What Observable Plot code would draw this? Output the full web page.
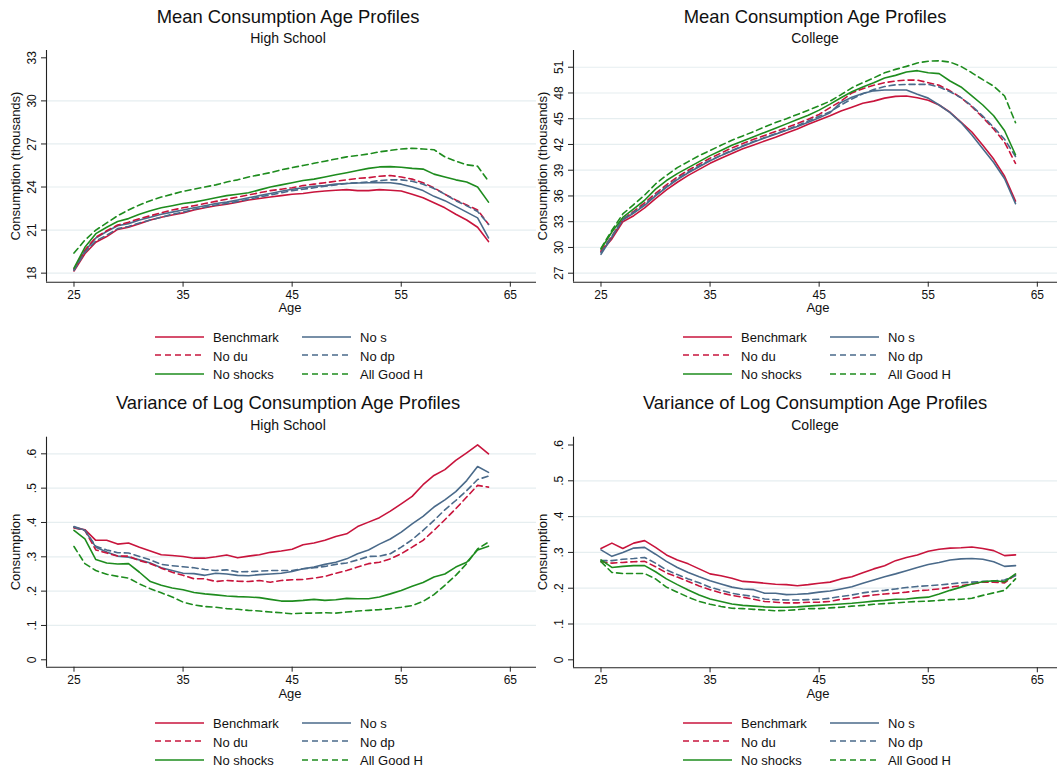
<!DOCTYPE html>
<html>
<head>
<meta charset="utf-8">
<script src="https://cdn.jsdelivr.net/npm/d3@7"></script>
<script src="https://cdn.jsdelivr.net/npm/@observablehq/plot@0.6"></script>
<style>
  html, body { margin: 0; padding: 0; background: #fff; }
  #root { position: relative; width: 1057px; height: 769px; overflow: hidden; background: #fff;
          font-family: "Liberation Sans", Arial, Helvetica, sans-serif; color: #111; }
  .abs { position: absolute; white-space: nowrap; }
  .panel { position: absolute; }
</style>
</head>
<body>
<div id="root"></div>
<script>
// ---------------- DATA ----------------
const ages = [25,26,27,28,29,30,31,32,33,34,35,36,37,38,39,40,41,42,43,44,45,46,47,48,49,50,51,52,53,54,55,56,57,58,59,60,61,62,63];
const xTicks = [25, 35, 45, 55, 65];
const seriesNames = ["Benchmark", "No s", "No du", "No dp", "No shocks", "All Good H"];

const hsMeanTicks = [18, 21, 24, 27, 30, 33];
const colMeanTicks = [27, 30, 33, 36, 39, 42, 45, 48, 51];
const varTicks = [0, 0.1, 0.2, 0.3, 0.4, 0.5, 0.6];

// Mean consumption, High School (thousands)
const hsMeanBenchmark = [18.15,19.35,20.15,20.55,21.05,21.2,21.45,21.7,21.9,22.05,22.2,22.4,22.55,22.7,22.8,22.95,23.1,23.2,23.3,23.4,23.5,23.55,23.65,23.72,23.78,23.82,23.75,23.75,23.82,23.78,23.72,23.5,23.25,22.9,22.55,22.1,21.7,21.2,20.2];
const hsMeanNoS = [18.25,19.55,20.45,20.9,21.3,21.45,21.7,21.9,22.1,22.25,22.4,22.55,22.7,22.85,22.95,23.1,23.25,23.4,23.55,23.7,23.85,23.95,24.05,24.1,24.2,24.25,24.28,24.3,24.32,24.3,24.2,24.0,23.75,23.35,23.05,22.65,22.25,21.85,20.45];
const hsMeanNoDu = [18.3,19.6,20.5,20.95,21.35,21.55,21.8,22.0,22.2,22.4,22.55,22.7,22.85,23.0,23.15,23.3,23.45,23.6,23.75,23.85,23.95,24.1,24.2,24.3,24.4,24.5,24.6,24.65,24.75,24.8,24.7,24.55,24.3,23.95,23.5,23.1,22.75,22.4,21.4];
const hsMeanNoDp = [18.2,19.45,20.25,20.65,21.1,21.25,21.5,21.7,21.9,22.1,22.25,22.45,22.6,22.75,22.85,23.0,23.15,23.3,23.45,23.6,23.75,23.85,23.95,24.05,24.15,24.25,24.3,24.35,24.45,24.5,24.5,24.4,24.2,23.9,23.5,23.05,22.7,22.3,21.4];
const hsMeanNoShocks = [18.35,19.8,20.75,21.2,21.6,21.8,22.1,22.35,22.55,22.7,22.85,22.95,23.1,23.25,23.4,23.5,23.6,23.8,24.0,24.15,24.3,24.45,24.55,24.7,24.85,25.0,25.15,25.3,25.4,25.42,25.38,25.3,25.25,24.9,24.7,24.5,24.35,24.0,22.95];
const hsMeanAllGoodH = [19.4,20.3,21.0,21.5,22.0,22.4,22.75,23.05,23.3,23.5,23.7,23.85,24.0,24.15,24.35,24.5,24.7,24.85,25.0,25.2,25.35,25.5,25.65,25.8,25.95,26.1,26.2,26.3,26.45,26.55,26.65,26.7,26.65,26.6,26.1,25.8,25.55,25.45,24.4];

// Mean consumption, College (thousands)
const colMeanBenchmark = [29.5,31.0,33.0,33.7,34.6,35.7,36.7,37.6,38.4,39.1,39.8,40.4,40.95,41.5,41.95,42.4,42.85,43.35,43.8,44.35,44.85,45.35,45.9,46.35,46.8,47.05,47.4,47.6,47.65,47.45,47.15,46.6,45.75,44.6,43.45,41.9,40.3,38.3,35.4];
const colMeanNoS = [29.2,31.2,33.2,34.0,34.9,36.0,37.0,37.9,38.7,39.4,40.1,40.7,41.25,41.8,42.3,42.75,43.2,43.65,44.1,44.6,45.1,45.7,46.9,47.5,47.95,48.25,48.35,48.35,48.35,47.85,47.4,46.6,45.7,44.55,43.1,41.5,39.9,38.0,35.1];
const colMeanNoDu = [29.6,31.3,33.3,34.2,35.2,36.3,37.3,38.2,39.0,39.7,40.4,41.0,41.6,42.1,42.6,43.05,43.5,43.95,44.45,44.95,45.5,46.3,47.05,48.0,48.5,48.9,49.2,49.4,49.5,49.5,49.2,48.9,48.25,47.45,46.4,45.15,43.8,42.25,39.8];
const colMeanNoDp = [29.4,31.3,33.3,34.1,35.0,36.1,37.1,38.0,38.8,39.5,40.15,40.75,41.3,41.85,42.35,42.8,43.25,43.7,44.2,44.75,45.3,45.8,46.6,47.3,47.9,48.4,48.75,48.95,49.0,49.0,49.0,48.7,48.15,47.45,46.5,45.3,44.0,42.6,40.6];
const colMeanNoShocks = [29.8,31.8,33.5,34.5,35.5,36.8,37.8,38.6,39.3,40.0,40.7,41.3,41.9,42.4,42.9,43.4,43.9,44.4,44.9,45.4,46.0,46.7,47.45,48.15,48.7,49.2,49.75,50.05,50.45,50.6,50.35,50.25,49.4,48.7,47.65,46.6,45.35,43.6,40.8];
const colMeanAllGoodH = [29.9,32.0,33.9,35.0,36.1,37.4,38.4,39.3,40.0,40.7,41.3,41.9,42.5,43.0,43.5,44.05,44.55,45.0,45.5,46.0,46.5,47.05,47.8,48.6,49.2,49.75,50.35,50.75,51.1,51.5,51.7,51.75,51.6,51.1,50.35,49.55,48.8,47.65,44.55];

// Variance of log consumption, High School
const hsVarBenchmark = [.386,.379,.348,.348,.337,.340,.328,.317,.306,.304,.301,.296,.296,.300,.305,.297,.302,.306,.313,.317,.322,.335,.340,.348,.359,.367,.388,.401,.414,.433,.454,.476,.510,.537,.554,.581,.603,.626,.600];
const hsVarNoS = [.388,.377,.328,.314,.302,.299,.291,.282,.268,.260,.252,.251,.246,.252,.250,.246,.245,.248,.250,.252,.257,.265,.270,.278,.284,.294,.309,.320,.337,.352,.372,.396,.418,.445,.466,.490,.522,.563,.546];
const hsVarNoDu = [.384,.377,.320,.311,.302,.302,.289,.280,.267,.255,.246,.236,.236,.228,.231,.229,.228,.231,.226,.231,.233,.234,.238,.243,.252,.260,.270,.280,.284,.294,.309,.328,.348,.377,.408,.440,.474,.508,.503];
const hsVarNoDp = [.386,.377,.331,.320,.312,.311,.301,.291,.278,.274,.271,.268,.263,.260,.262,.256,.257,.258,.260,.260,.260,.265,.268,.272,.278,.282,.291,.301,.302,.309,.328,.350,.377,.406,.437,.464,.493,.525,.535];
const hsVarNoShocks = [.377,.352,.292,.282,.279,.280,.255,.228,.217,.209,.204,.196,.192,.189,.186,.184,.183,.181,.176,.171,.171,.173,.176,.173,.175,.179,.178,.178,.183,.192,.202,.214,.225,.241,.250,.270,.284,.320,.331];
const hsVarAllGoodH = [.330,.280,.260,.249,.243,.238,.221,.207,.195,.183,.168,.160,.155,.153,.149,.147,.144,.142,.139,.137,.134,.136,.136,.137,.136,.139,.142,.144,.146,.149,.153,.158,.170,.190,.217,.246,.280,.323,.343];

// Variance of log consumption, College
const colVarBenchmark = [.311,.326,.311,.326,.333,.314,.293,.279,.268,.254,.240,.235,.228,.219,.217,.214,.211,.210,.207,.210,.214,.217,.226,.232,.243,.254,.263,.277,.286,.293,.303,.309,.312,.313,.315,.311,.305,.291,.293];
const colVarNoS = [.307,.289,.300,.312,.314,.295,.275,.258,.244,.232,.221,.212,.203,.198,.196,.186,.186,.182,.183,.185,.189,.192,.198,.204,.214,.223,.232,.240,.249,.258,.266,.272,.279,.282,.283,.281,.274,.261,.263];
const colVarNoDu = [.274,.270,.272,.274,.275,.260,.243,.231,.219,.206,.196,.187,.180,.175,.169,.163,.161,.159,.159,.161,.161,.163,.169,.172,.177,.181,.184,.186,.189,.193,.195,.198,.203,.207,.212,.217,.217,.215,.237];
const colVarNoDp = [.277,.277,.281,.283,.286,.270,.251,.238,.226,.215,.203,.194,.186,.181,.177,.170,.168,.167,.167,.168,.169,.172,.177,.181,.187,.191,.194,.198,.202,.205,.207,.209,.212,.215,.217,.219,.220,.223,.235];
const colVarNoShocks = [.279,.258,.261,.263,.263,.246,.226,.210,.195,.181,.170,.163,.156,.152,.150,.148,.147,.147,.148,.150,.152,.154,.156,.158,.161,.164,.166,.169,.170,.173,.175,.184,.194,.203,.212,.218,.221,.218,.240];
const colVarAllGoodH = [.274,.244,.241,.241,.241,.226,.203,.189,.175,.163,.155,.149,.144,.143,.141,.139,.137,.138,.140,.143,.143,.145,.147,.150,.152,.155,.157,.159,.161,.163,.164,.166,.168,.169,.172,.180,.187,.194,.226];

// ---------------- STYLE ----------------
const RED = "#c8143c", BLUE = "#4a6a8a", GREEN = "#1e8c1e";
const seriesStyle = {
  "Benchmark":  {stroke: RED,   dash: null},
  "No s":       {stroke: BLUE,  dash: null},
  "No du":      {stroke: RED,   dash: "6,4"},
  "No dp":      {stroke: BLUE,  dash: "6,4"},
  "No shocks":  {stroke: GREEN, dash: null},
  "All Good H": {stroke: GREEN, dash: "6,4"}
};
const GRID = "#e6eef0", AXIS = "#222";
const FONT = '"Liberation Sans", Arial, Helvetica, sans-serif';
const xDomain = [22.48, 67.4];

const root = document.getElementById("root");

function fmtVar(d) { return d === 0 ? "0" : String(d).replace(/^0/, ""); }

function makePanel(cfg) {
  const marks = [
    Plot.gridY(cfg.grid, {stroke: GRID, strokeOpacity: 1, strokeWidth: 1.2}),
    Plot.ruleX([xDomain[0]], {stroke: AXIS, strokeWidth: 1.1}),
    Plot.ruleY([cfg.yDomain[0]], {stroke: AXIS, strokeWidth: 1.1}),
    Plot.axisY(cfg.yTicks, {anchor: "left", tickSize: 5, tickPadding: 6, tickRotate: -90,
      tickFormat: cfg.yFormat, label: null, stroke: AXIS}),
    Plot.axisX(xTicks, {anchor: "bottom", tickSize: 5, tickPadding: 3, label: null, stroke: AXIS})
  ];
  cfg.series.forEach((vals, i) => {
    const name = seriesNames[i];
    const st = seriesStyle[name];
    const rows = ages.map((a, j) => ({age: a, value: vals[j]}));
    marks.push(Plot.line(rows, {x: "age", y: "value", stroke: st.stroke, strokeWidth: 1.6,
      strokeDasharray: st.dash || undefined}));
  });
  const svg = Plot.plot({
    width: 540, height: 270,
    marginLeft: 46, marginRight: 4, marginTop: cfg.marginTop, marginBottom: cfg.marginBottom,
    x: {domain: xDomain},
    y: {domain: cfg.yDomain},
    style: {background: "transparent", overflow: "visible", fontFamily: FONT, fontSize: "12px", color: "#111"},
    marks
  });
  svg.classList.add("panel");
  svg.style.left = cfg.left + "px";
  svg.style.top = cfg.top + "px";
  root.appendChild(svg);
}

function addText(txt, x, baseline, size, opts = {}) {
  const d = document.createElement("div");
  d.className = "abs";
  d.textContent = txt;
  d.style.fontSize = size + "px";
  d.style.lineHeight = size + "px";
  d.style.top = (baseline - 0.8465 * size) + "px";
  d.style.left = x + "px";
  if (opts.anchor !== "start") d.style.transform = "translateX(-50%)";
  root.appendChild(d);
  return d;
}

function addYTitle(txt, cx, cy) {
  const d = document.createElement("div");
  d.className = "abs";
  d.textContent = txt;
  d.style.fontSize = "13px";
  d.style.lineHeight = "13px";
  d.style.left = cx + "px";
  d.style.top = cy + "px";
  d.style.transform = "translate(-50%,-50%) rotate(-90deg)";
  root.appendChild(d);
}

function addLegend(dx, dy) {
  const colX = [155, 302];
  const rowY = [336.7, 355.3, 374];
  seriesNames.forEach((name, i) => {
    const col = i % 2, row = Math.floor(i / 2);
    const x = dx + colX[col], y = dy + rowY[row];
    const st = seriesStyle[name];
    const ns = "http://www.w3.org/2000/svg";
    const s = document.createElementNS(ns, "svg");
    s.setAttribute("width", 49); s.setAttribute("height", 6);
    s.style.position = "absolute"; s.style.left = x + "px"; s.style.top = (y - 3) + "px";
    const l = document.createElementNS(ns, "line");
    l.setAttribute("x1", 0); l.setAttribute("x2", 49); l.setAttribute("y1", 3); l.setAttribute("y2", 3);
    l.setAttribute("stroke", st.stroke); l.setAttribute("stroke-width", 1.6);
    if (st.dash) l.setAttribute("stroke-dasharray", st.dash);
    s.appendChild(l);
    root.appendChild(s);
    addText(name, x + 58, y + 5.5, 13, {anchor: "start"});
  });
}

// ---------------- PANELS ----------------
makePanel({left: 0, top: 40, marginTop: 10, marginBottom: 28.3, yDomain: [17.37, 33.51],
  yTicks: hsMeanTicks, grid: [18, 21, 24, 27, 30], yFormat: d => String(d),
  series: [hsMeanBenchmark, hsMeanNoS, hsMeanNoDu, hsMeanNoDp, hsMeanNoShocks, hsMeanAllGoodH]});
makePanel({left: 527, top: 40, marginTop: 10, marginBottom: 28.3, yDomain: [25.95, 52.95],
  yTicks: colMeanTicks, grid: colMeanTicks, yFormat: d => String(d),
  series: [colMeanBenchmark, colMeanNoS, colMeanNoDu, colMeanNoDp, colMeanNoShocks, colMeanAllGoodH]});
makePanel({left: 0, top: 426, marginTop: 10.7, marginBottom: 29.3, yDomain: [-0.0216, 0.6484],
  yTicks: varTicks, grid: [0.1, 0.2, 0.3, 0.4, 0.5, 0.6], yFormat: fmtVar,
  series: [hsVarBenchmark, hsVarNoS, hsVarNoDu, hsVarNoDp, hsVarNoShocks, hsVarAllGoodH]});
makePanel({left: 527, top: 426, marginTop: 10.7, marginBottom: 28.7, yDomain: [-0.0223, 0.6218],
  yTicks: varTicks, grid: [0.1, 0.2, 0.3, 0.4, 0.5], yFormat: fmtVar,
  series: [colVarBenchmark, colVarNoS, colVarNoDu, colVarNoDp, colVarNoShocks, colVarAllGoodH]});

// ---------------- TEXT ----------------
addText("Mean Consumption Age Profiles", 288, 23.3, 18.4);
addText("High School", 288, 43.3, 14);
addText("Mean Consumption Age Profiles", 815, 23.3, 18.4);
addText("College", 815, 43.3, 14);
addText("Variance of Log Consumption Age Profiles", 288, 410, 18.4);
addText("High School", 288, 430, 14);
addText("Variance of Log Consumption Age Profiles", 815, 410, 18.4);
addText("College", 815, 430, 14);

addText("Age", 290, 312.5, 13);
addText("Age", 818, 312.5, 13);
addText("Age", 290, 698, 13);
addText("Age", 818, 698, 13);

addYTitle("Consumption (thousands)", 15, 166);
addYTitle("Consumption (thousands)", 542, 166);
addYTitle("Consumption", 15, 552);
addYTitle("Consumption", 542, 552);

addLegend(0, 0);
addLegend(528, 0);
addLegend(0, 386);
addLegend(528, 386);
</script>
</body>
</html>
